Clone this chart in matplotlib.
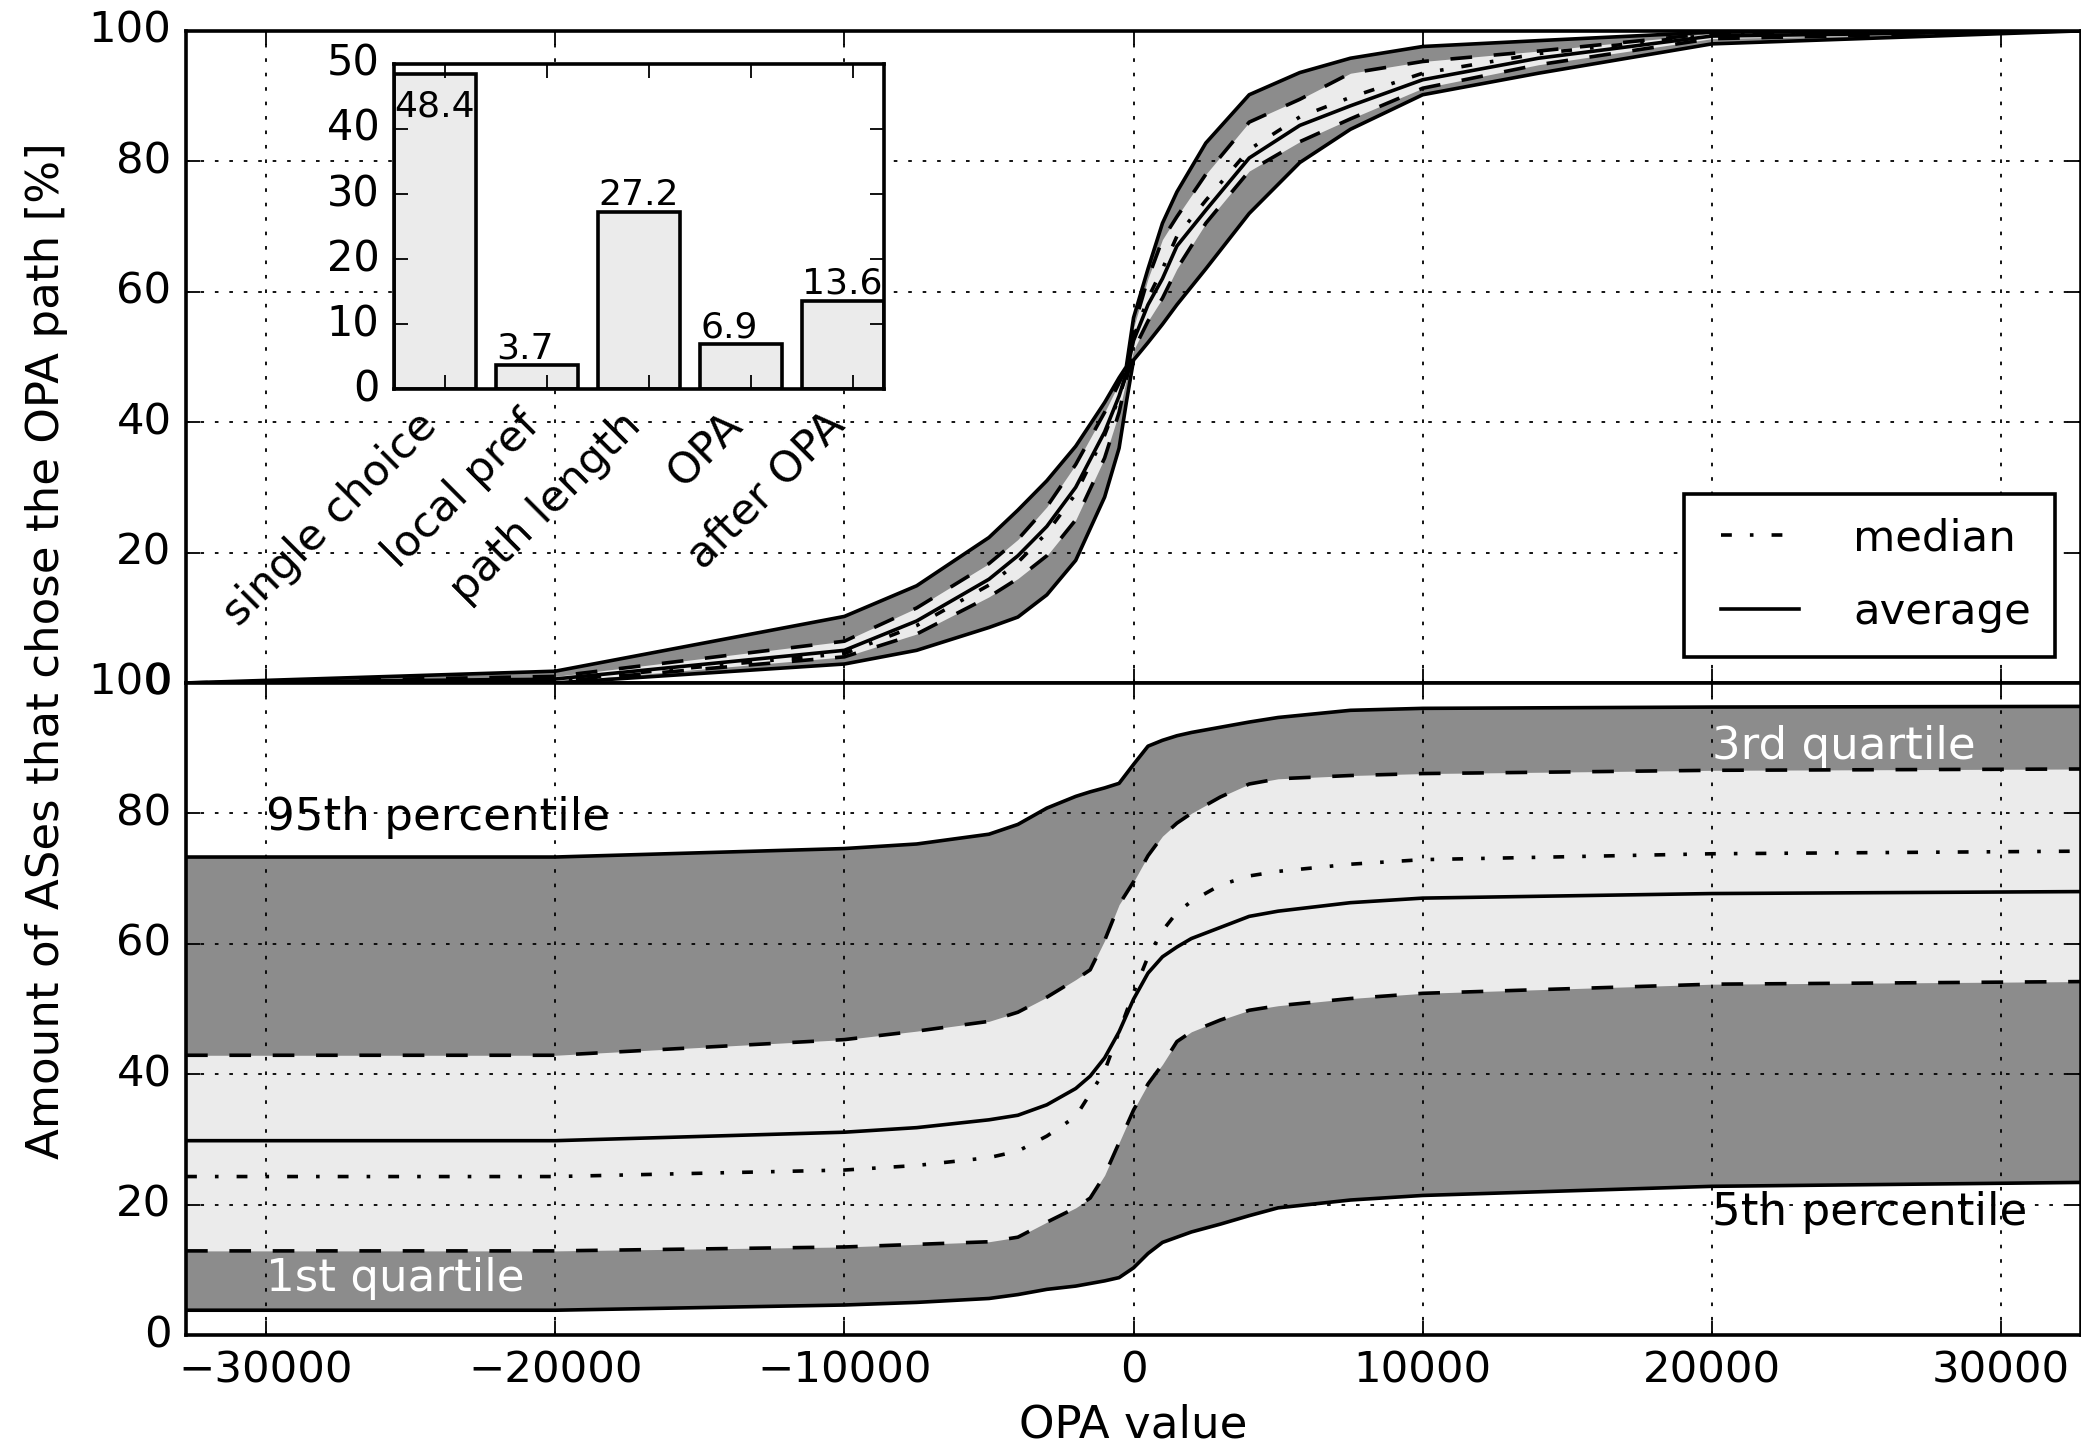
import matplotlib
matplotlib.use("Agg")
import matplotlib.pyplot as plt
import numpy as np

plt.style.use("classic")
plt.rcParams["figure.facecolor"] = "white"
plt.rcParams["savefig.facecolor"] = "white"
plt.rcParams["font.family"] = "DejaVu Sans"

# --- upper panel: share of ASes choosing the OPA path vs OPA value ---
x_up = [-32768, -20000, -10000, -7500, -5000, -4000, -3000, -2000, -1000, -500, -250, 0,
        500, 1000, 1500, 2500, 4000, 5750, 7500, 10000, 14000, 20000, 32767]
p05_up = [0, 0.0, 2.9, 5.0, 8.5, 10.1, 13.5, 18.8, 28.5, 36.0, 43.0, 49.5,
          52.2, 55.0, 58.0, 63.5, 72.0, 79.8, 84.9, 90.2, 93.5, 98.0, 100]
q1_up = [0, 0.2, 4.0, 7.5, 13.2, 16.0, 19.5, 25.0, 34.5, 41.5, 46.5, 51.0,
         55.5, 59.0, 63.5, 70.5, 78.5, 83.0, 86.5, 91.2, 94.8, 98.8, 100]
med_up = [0, 0.4, 4.5, 8.8, 15.0, 18.5, 23.0, 29.0, 38.0, 43.8, 47.3, 53.0,
          59.0, 63.5, 68.5, 74.0, 81.8, 86.8, 89.8, 93.5, 96.5, 99.4, 100]
avg_up = [0, 0.6, 5.0, 9.5, 15.9, 19.5, 24.0, 30.0, 38.5, 44.0, 47.5, 52.5,
          58.0, 62.0, 67.0, 72.5, 80.5, 85.5, 88.5, 92.5, 95.8, 99.2, 100]
q3_up = [0, 1.0, 6.4, 11.5, 18.3, 22.0, 27.0, 33.5, 41.5, 46.0, 48.3, 54.5,
         62.0, 68.0, 71.5, 78.0, 86.0, 89.5, 93.5, 95.3, 96.9, 99.6, 100]
p95_up = [0, 1.8, 10.2, 14.9, 22.3, 26.5, 31.0, 36.3, 43.0, 46.8, 48.5, 56.0,
          63.5, 70.5, 75.3, 82.8, 90.2, 93.6, 95.8, 97.6, 98.5, 99.8, 100]

# --- lower panel ---
x_lo = [-32768, -20000, -10000, -7500, -5000, -4000, -3000, -2000, -1500, -1000, -500, 0,
        500, 1000, 1500, 2000, 3000, 4000, 5000, 7500, 10000, 20000, 32767]
p05_lo = [3.8, 3.8, 4.6, 5.0, 5.6, 6.2, 7.0, 7.5, 7.9, 8.3, 8.8, 10.3,
          12.5, 14.2, 15.0, 15.8, 17.0, 18.3, 19.5, 20.7, 21.4, 22.8, 23.4]
q1_lo = [12.9, 12.9, 13.5, 13.9, 14.3, 15.0, 17.3, 19.5, 21.0, 24.5, 29.5, 34.5,
         38.5, 41.5, 45.0, 46.5, 48.3, 49.8, 50.5, 51.6, 52.4, 53.8, 54.2]
med_lo = [24.3, 24.3, 25.3, 26.0, 27.2, 28.2, 30.5, 33.5, 37.0, 40.5, 46.5, 52.5,
          58.0, 62.0, 64.8, 66.5, 69.0, 70.4, 71.1, 72.2, 72.9, 73.8, 74.2]
avg_lo = [29.8, 29.8, 31.1, 31.8, 33.0, 33.7, 35.3, 37.8, 39.7, 42.5, 46.5, 51.5,
          55.5, 58.0, 59.5, 60.8, 62.5, 64.2, 65.0, 66.3, 67.0, 67.7, 68.0]
q3_lo = [42.9, 42.9, 45.3, 46.6, 48.1, 49.5, 51.8, 54.5, 56.0, 60.5, 66.0, 69.5,
         73.5, 76.5, 78.5, 80.0, 82.5, 84.5, 85.3, 85.8, 86.1, 86.6, 86.8]
p95_lo = [73.3, 73.3, 74.6, 75.3, 76.8, 78.3, 80.8, 82.6, 83.3, 83.9, 84.6, 87.5,
          90.3, 91.2, 91.9, 92.4, 93.2, 94.0, 94.7, 95.8, 96.1, 96.3, 96.4]

# --- inset: decision step ---
steps = ["single choice", "local pref", "path length", "OPA", "after OPA"]
step_share = [48.4, 3.7, 27.2, 6.9, 13.6]

dark = "0.55"
light = "0.92"

fig = plt.figure(figsize=(8.0039, 5.5462), dpi=260)
ax_top = fig.add_axes([0.0894, 0.5264, 0.9106, 0.4522])
ax_bot = fig.add_axes([0.0894, 0.0742, 0.9106, 0.4522], sharex=ax_top)


def draw_band(ax, x, p05, q1, med, avg, q3, p95):
    ax.fill_between(x, p05, p95, facecolor=dark, linewidth=0)
    ax.fill_between(x, q1, q3, facecolor=light, linewidth=0)
    ax.plot(x, p05, color="k", linestyle="-", linewidth=1)
    ax.plot(x, p95, color="k", linestyle="-", linewidth=1)
    ax.plot(x, q1, color="k", linestyle="--", linewidth=1)
    ax.plot(x, q3, color="k", linestyle="--", linewidth=1)
    ax.plot(x, med, color="k", linestyle="-.", linewidth=1, label="median")
    ax.plot(x, avg, color="k", linestyle="-", linewidth=1, label="average")
    ax.set_ylim(0, 100)
    ax.set_yticks(range(0, 101, 20))
    ax.grid(True)


draw_band(ax_top, x_up, p05_up, q1_up, med_up, avg_up, q3_up, p95_up)
draw_band(ax_bot, x_lo, p05_lo, q1_lo, med_lo, avg_lo, q3_lo, p95_lo)

ax_bot.set_xlim(-32768, 32767)
ax_bot.set_xticks(range(-30000, 30001, 10000))
plt.setp(ax_top.get_xticklabels(), visible=False)
ax_bot.set_xlabel("OPA value", fontsize=12.5, labelpad=3.2)

leg = ax_top.legend(loc="lower right", fontsize=12, handlelength=2.4,
                    handletextpad=0.95, borderpad=0.55, labelspacing=0.73,
                    borderaxespad=0.6)
leg.get_frame().set_linewidth(1)

ax_bot.text(-30000, 77.4, "95th percentile", fontsize=12.5, va="baseline")
ax_bot.text(-30000, 6.8, "1st quartile", fontsize=12.5, va="baseline", color="w")
ax_bot.text(20000, 88.4, "3rd quartile", fontsize=12.5, va="baseline", color="w")
ax_bot.text(20000, 16.8, "5th percentile", fontsize=12.5, va="baseline")

fig.text(0.0225, 0.549, "Amount of ASes that chose the OPA path [%]",
         rotation=90, ha="center", va="center", fontsize=12.5)

# inset bar chart
ax_in = fig.add_axes([0.1893, 0.7300, 0.2355, 0.2257])
idx = np.arange(len(steps))
ax_in.bar(idx, step_share, width=0.8, align="edge", color=light,
          edgecolor="k", linewidth=1)
for i, v in zip(idx, step_share):
    ty = v if v < 45 else v - 7.5
    ax_in.text(i, ty, "%.1f" % v, ha="left", va="bottom", fontsize=10)
ax_in.set_xlim(0, len(steps) - 0.2)
ax_in.set_ylim(0, 50)
ax_in.set_yticks(range(0, 51, 10))
ax_in.set_xticks(idx + 0.5)
ax_in.set_xticklabels(steps, rotation=45, ha="right", fontsize=12)
ax_in.tick_params(axis="y", labelsize=11.5)

fig.savefig("out.png", dpi=260)
